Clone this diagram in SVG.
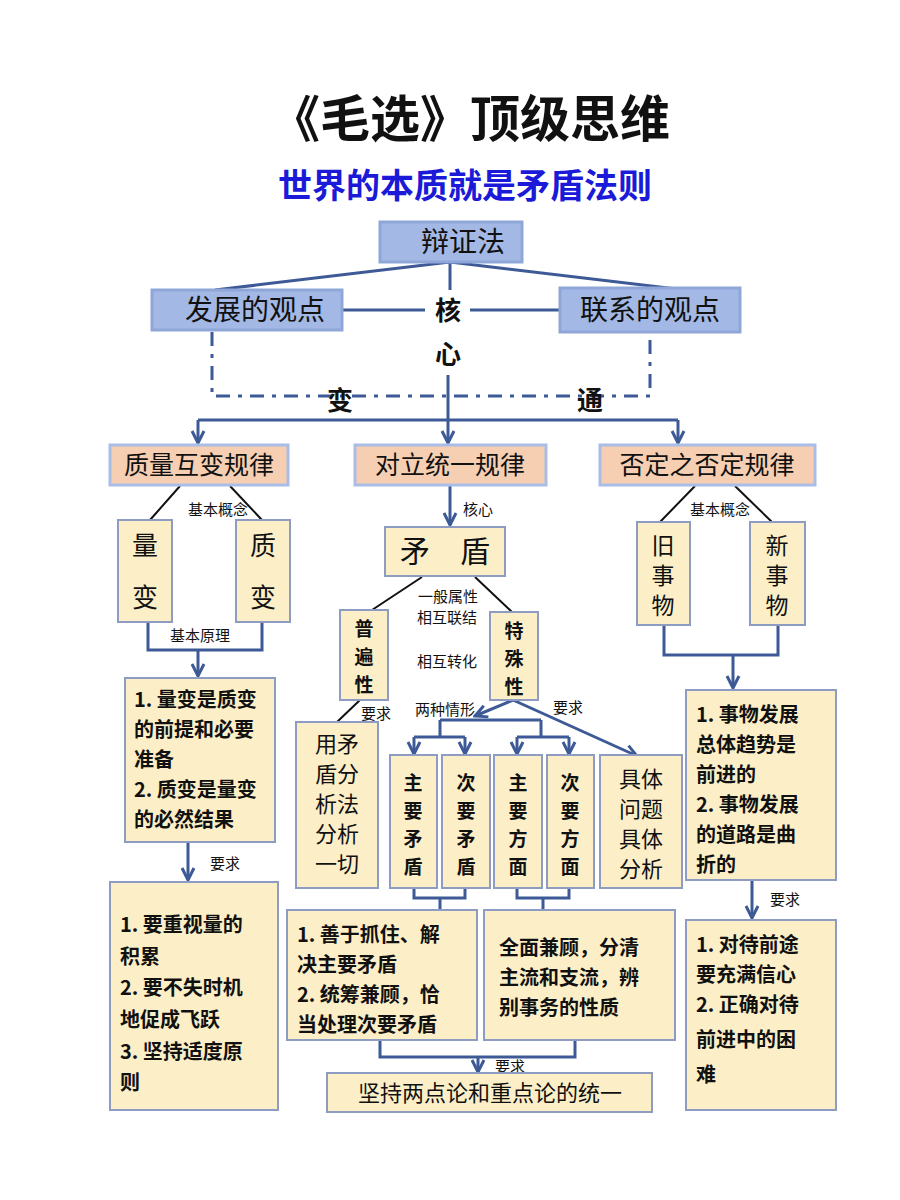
<svg xmlns="http://www.w3.org/2000/svg" width="900" height="1200" viewBox="0 0 900 1200">
<defs>
<style>
text{font-family:"Noto Sans CJK SC","Liberation Sans",sans-serif;text-anchor:middle;fill:#111}
.b{font-weight:bold}
.c{fill:#fcefc8;stroke:#8e9cc4;stroke-width:2}
.o{fill:#f6cfb3;stroke:#aabde6;stroke-width:3}
.p{fill:#a3b8e4;stroke:#8fa6d8;stroke-width:3}
.bl{stroke:#3d5a96;stroke-width:3;fill:none}
.k{stroke:#111;stroke-width:2;fill:none}
.t20{font-size:20px;font-weight:bold}
.t19{font-size:19px;font-weight:bold}
.s{text-anchor:start}
.t22{font-size:22px}
.t15{font-size:15px}
.v{font-size:23px}
</style>
<marker id="m" viewBox="0 0 16 16" refX="14" refY="8" markerWidth="16" markerHeight="16" orient="auto" markerUnits="userSpaceOnUse"><path d="M2,2 L14,8 L2,14" fill="none" stroke="#3d5a96" stroke-width="3"/></marker>
</defs>
<rect width="900" height="1200" fill="#fff"/>
<text x="470" y="137" class="b" style="font-size:50px">《毛选》顶级思维</text>
<text x="465" y="198" class="b" style="font-size:34px;fill:#1a1ad8;font-family:'Noto Sans CJK SC',serif">世界的本质就是矛盾法则</text>

<g id="connectors">
<path class="bl" d="M450,262 L215,290 M450,262 L685,290 M450,262 V290 M342,310 H425 M470,310 H560"/>
<path class="bl" d="M448,375 V443" marker-end="url(#m)"/>
<path d="M212,332 V396 H650 V332" fill="none" stroke="#3d5a96" stroke-width="3" stroke-dasharray="14,8,4,8"/>
<path class="bl" d="M198,420 H678"/>
<path class="bl" d="M198,420 V443" marker-end="url(#m)"/>
<path class="bl" d="M678,420 V443" marker-end="url(#m)"/>
<path class="k" d="M180,486 L150,520 M230,486 L262,520"/>
<path class="bl" d="M148,622 V650 H262 V622"/>
<path class="bl" d="M198,650 V676" marker-end="url(#m)"/>
<path class="bl" d="M188,842 V880" marker-end="url(#m)"/>
<path class="bl" d="M450,486 V525" marker-end="url(#m)"/>
<path class="k" d="M422,577 L372,610 M475,577 L512,612 M360,700 L337,722"/>
<path class="bl" d="M513,700 L475,716" marker-end="url(#m)"/>
<path class="bl" d="M513,700 L637,756" marker-end="url(#m)"/>
<path class="bl" d="M440,720 H541 M440,720 V737 M541,720 V737 M414,737 H465 M517,737 H569"/>
<path class="bl" d="M414,737 V754" marker-end="url(#m)"/>
<path class="bl" d="M465,737 V754" marker-end="url(#m)"/>
<path class="bl" d="M517,737 V754" marker-end="url(#m)"/>
<path class="bl" d="M569,737 V754" marker-end="url(#m)"/>
<path class="bl" d="M414,888 V898 H465 V888 M440,898 V910 M517,888 V898 H569 V888 M543,898 V910"/>
<path class="bl" d="M380,1040 V1057 H575 V1040"/>
<path class="bl" d="M478,1057 V1072" marker-end="url(#m)"/>
<path class="k" d="M695,486 L660,522 M735,486 L772,522"/>
<path class="bl" d="M664,625 V655 H778 V625"/>
<path class="bl" d="M733,655 V688" marker-end="url(#m)"/>
<path class="bl" d="M752,880 V918" marker-end="url(#m)"/>
</g>

<text x="448" y="320" class="b" style="font-size:26px">核</text>
<text x="448" y="364" class="b" style="font-size:26px">心</text>
<text x="340" y="410" class="b" style="font-size:26px">变</text>
<text x="590" y="410" class="b" style="font-size:26px">通</text>
<text x="218" y="515" class="t15">基本概念</text>
<text x="200" y="641" class="t15">基本原理</text>
<text x="225" y="869" class="t15">要求</text>
<text x="478" y="515" class="t15">核心</text>
<text x="448" y="602" class="t15">一般属性</text>
<text x="447" y="623" class="t15">相互联结</text>
<text x="447" y="667" class="t15">相互转化</text>
<text x="376" y="719" class="t15">要求</text>
<text x="445" y="715" class="t15">两种情形</text>
<text x="568" y="713" class="t15">要求</text>
<text x="510" y="1072" class="t15">要求</text>
<text x="720" y="515" class="t15">基本概念</text>
<text x="785" y="905" class="t15">要求</text>

<g id="n-bzf"><rect class="p" x="380" y="222" width="142" height="40"/><text x="463" y="252" style="font-size:28px">辩证法</text></g>
<g id="n-fz"><rect class="p" x="152" y="290" width="190" height="40"/><text x="255" y="320" style="font-size:28px">发展的观点</text></g>
<g id="n-lx"><rect class="p" x="560" y="288" width="180" height="44"/><text x="650" y="320" style="font-size:28px">联系的观点</text></g>
<g id="n-zl"><rect class="o" x="110" y="445" width="178" height="40"/><text x="199" y="474" style="font-size:25px">质量互变规律</text></g>
<g id="n-dl"><rect class="o" x="355" y="445" width="191" height="40"/><text x="450" y="474" style="font-size:25px">对立统一规律</text></g>
<g id="n-fd"><rect class="o" x="600" y="445" width="215" height="40"/><text x="707" y="474" style="font-size:25px">否定之否定规律</text></g>

<g id="n-lb"><rect class="c" x="118" y="520" width="54" height="102"/><text x="145" y="555" style="font-size:26px">量</text><text x="145" y="607" style="font-size:26px">变</text></g>
<g id="n-zb"><rect class="c" x="236" y="520" width="54" height="102"/><text x="263" y="555" style="font-size:26px">质</text><text x="263" y="607" style="font-size:26px">变</text></g>
<g id="n-yl1"><rect class="c" x="125" y="678" width="150" height="164"/>
<text x="134" y="707" class="t20 s">1. 量变是质变</text><text x="134" y="737" class="t20 s">的前提和必要</text><text x="134" y="767" class="t20 s">准备</text><text x="134" y="797" class="t20 s">2. 质变是量变</text><text x="134" y="827" class="t20 s">的必然结果</text></g>
<g id="n-yq1"><rect class="c" x="110" y="882" width="168" height="228"/>
<text x="120" y="932" class="t20 s">1. 要重视量的</text><text x="120" y="964" class="t20 s">积累</text><text x="120" y="995" class="t20 s">2. 要不失时机</text><text x="120" y="1027" class="t20 s">地促成飞跃</text><text x="120" y="1059" class="t20 s">3. 坚持适度原</text><text x="120" y="1090" class="t20 s">则</text></g>

<g id="n-md"><rect class="c" x="385" y="527" width="120" height="49"/><text x="445" y="562" style="font-size:30px">矛　盾</text></g>
<g id="n-pb"><rect class="c" x="340" y="610" width="48" height="90"/><text x="364" y="636" class="t19">普</text><text x="364" y="664" class="t19">遍</text><text x="364" y="692" class="t19">性</text></g>
<g id="n-ts"><rect class="c" x="490" y="612" width="48" height="88"/><text x="514" y="638" class="t19">特</text><text x="514" y="666" class="t19">殊</text><text x="514" y="694" class="t19">性</text></g>
<g id="n-yms"><rect class="c" x="296" y="722" width="82" height="166"/>
<text x="337" y="752" class="t22">用矛</text><text x="337" y="782" class="t22">盾分</text><text x="337" y="812" class="t22">析法</text><text x="337" y="842" class="t22">分析</text><text x="337" y="872" class="t22">一切</text></g>
<g id="n-zymd"><rect class="c" x="390" y="755" width="47" height="133"/><text x="413" y="790" class="t19">主</text><text x="413" y="818" class="t19">要</text><text x="413" y="846" class="t19">矛</text><text x="413" y="874" class="t19">盾</text></g>
<g id="n-cymd"><rect class="c" x="442" y="755" width="48" height="133"/><text x="466" y="790" class="t19">次</text><text x="466" y="818" class="t19">要</text><text x="466" y="846" class="t19">矛</text><text x="466" y="874" class="t19">盾</text></g>
<g id="n-zyfm"><rect class="c" x="494" y="755" width="48" height="133"/><text x="518" y="790" class="t19">主</text><text x="518" y="818" class="t19">要</text><text x="518" y="846" class="t19">方</text><text x="518" y="874" class="t19">面</text></g>
<g id="n-cyfm"><rect class="c" x="547" y="755" width="47" height="133"/><text x="570" y="790" class="t19">次</text><text x="570" y="818" class="t19">要</text><text x="570" y="846" class="t19">方</text><text x="570" y="874" class="t19">面</text></g>
<g id="n-jt"><rect class="c" x="600" y="755" width="82" height="133"/><text x="641" y="787" class="t22">具体</text><text x="641" y="817" class="t22">问题</text><text x="641" y="847" class="t22">具体</text><text x="641" y="877" class="t22">分析</text></g>
<g id="n-sy"><rect class="c" x="287" y="910" width="190" height="130"/>
<text x="297" y="942" class="t20 s">1. 善于抓住、解</text><text x="297" y="972" class="t20 s">决主要矛盾</text><text x="297" y="1002" class="t20 s">2. 统筹兼顾，恰</text><text x="297" y="1032" class="t20 s">当处理次要矛盾</text></g>
<g id="n-qm"><rect class="c" x="484" y="910" width="191" height="130"/>
<text x="499" y="955" class="t20 s">全面兼顾，分清</text><text x="499" y="985" class="t20 s">主流和支流，辨</text><text x="499" y="1015" class="t20 s">别事务的性质</text></g>
<g id="n-jc"><rect class="c" x="327" y="1073" width="325" height="39"/><text x="490" y="1101" class="t22">坚持两点论和重点论的统一</text></g>

<g id="n-jsw"><rect class="c" x="637" y="522" width="53" height="103"/><text x="663" y="554" class="v">旧</text><text x="663" y="584" class="v">事</text><text x="663" y="614" class="v">物</text></g>
<g id="n-xsw"><rect class="c" x="750" y="522" width="55" height="103"/><text x="777" y="554" class="v">新</text><text x="777" y="584" class="v">事</text><text x="777" y="614" class="v">物</text></g>
<g id="n-yl3"><rect class="c" x="686" y="690" width="150" height="190"/>
<text x="696" y="722" class="t20 s">1. 事物发展</text><text x="696" y="752" class="t20 s">总体趋势是</text><text x="696" y="782" class="t20 s">前进的</text><text x="696" y="812" class="t20 s">2. 事物发展</text><text x="696" y="842" class="t20 s">的道路是曲</text><text x="696" y="872" class="t20 s">折的</text></g>
<g id="n-yq3"><rect class="c" x="686" y="920" width="150" height="190"/>
<text x="696" y="952" class="t20 s">1. 对待前途</text><text x="696" y="982" class="t20 s">要充满信心</text><text x="696" y="1012" class="t20 s">2. 正确对待</text><text x="696" y="1047" class="t20 s">前进中的困</text><text x="696" y="1082" class="t20 s">难</text></g>
</svg>
